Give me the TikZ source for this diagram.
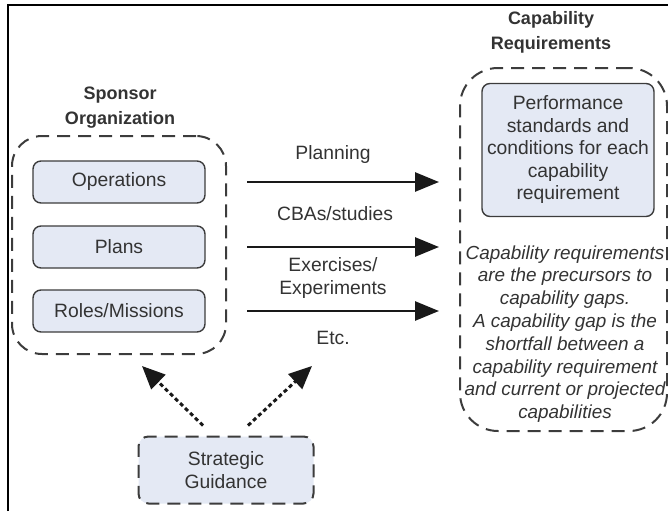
\documentclass[tikz,border=0pt]{standalone}
\usepackage{fontspec}
\setmainfont{Liberation Sans}
\usetikzlibrary{arrows.meta, positioning}
\definecolor{boxfill}{HTML}{E4E9F4}
\definecolor{edgegray}{HTML}{3C3C3C}
\definecolor{textgray}{HTML}{333333}

\begin{document}
\begin{tikzpicture}[
    x=1pt, y=-1pt,
    font=\fontsize{19.3}{22.5}\selectfont,
    text=textgray,
    item/.style={
        draw=edgegray,
        fill=boxfill,
        line width=1.4pt,
        rounded corners=8pt,
        minimum width=172pt,
        minimum height=42pt,
        align=center
    },
    group/.style={
        draw=edgegray,
        line width=2pt,
        dash pattern=on 13pt off 8pt,
        rounded corners=30pt,
        inner sep=0pt
    },
    title/.style={font=\bfseries\fontsize{18}{25}\selectfont, align=center},
    lbl/.style={align=center},
    note/.style={font=\itshape\fontsize{18.9}{22.8}\selectfont, align=center, text=textgray},
    flow/.style={-{Triangle[length=24pt, width=19pt]}, line width=2.7pt, draw=black!90},
    guide/.style={-{Triangle[length=23pt, width=20pt]}, line width=3pt, dash pattern=on 4pt off 3pt, draw=black!90}
]
    \useasboundingbox (0,0) rectangle (668,511);

    % frame edges
    \draw[line width=2pt] (8,511) -- (8,5) -- (668,5);

    % SPONSOR SIDE
    \node[title] (sptitle) at (120,108) {Sponsor\\Organization};
    \node[group, minimum width=214pt, minimum height=218pt] (sponsor) at (119,245) {};

    \node[item] (ops) at (119,182) {Operations};
    \node[item] (plans) at (119,247) {Plans};
    \node[item] (roles) at (119,311) {Roles/Missions};

    % CAPABILITY SIDE
    \node[title] (crtitle) at (551,32) {Capability\\Requirements};
    \node[group, rounded corners=38pt, minimum width=207pt, minimum height=363pt] (capreq) at (563.5,249.5) {};

    \node[item, minimum width=172pt, minimum height=133pt, inner sep=1pt] (perf) at (568,150)
        {Performance\\standards and\\conditions for each\\capability\\requirement};

    \node[note] (gapnote) at (565,334) {Capability requirements\\are the precursors to\\capability gaps.\\A capability gap is the\\shortfall between a\\capability requirement\\and current or projected\\capabilities};

    % labels between the arrows
    \node[lbl] (lplan) at (333,155) {Planning};
    \node[lbl] (lcba) at (335,214) {CBAs/studies};
    \node[lbl] (lexp) at (333,278) {Exercises/\\Experiments};
    \node[lbl] (letc) at (333,338) {Etc.};

    \draw[flow, shorten <=20pt, shorten >=20pt] (sponsor.east |- ops) -- (capreq.west |- ops);
    \draw[flow, shorten <=20pt, shorten >=20pt] (sponsor.east |- plans) -- (capreq.west |- plans);
    \draw[flow, shorten <=20pt, shorten >=20pt] (sponsor.east |- roles) -- (capreq.west |- roles);

    % GUIDANCE
    \node[group, fill=boxfill, rounded corners=10pt, minimum width=175pt, minimum height=67pt, align=center] (strat) at (226,470) {Strategic\\Guidance};

    \coordinate (tipl) at (142,366);
    \coordinate (tipr) at (312,366);
    \draw[guide] ([shift={(-23,-10)}]strat.north) -- (tipl);
    \draw[guide] ([shift={(22,-10)}]strat.north) -- (tipr);

\end{tikzpicture}
\end{document}
